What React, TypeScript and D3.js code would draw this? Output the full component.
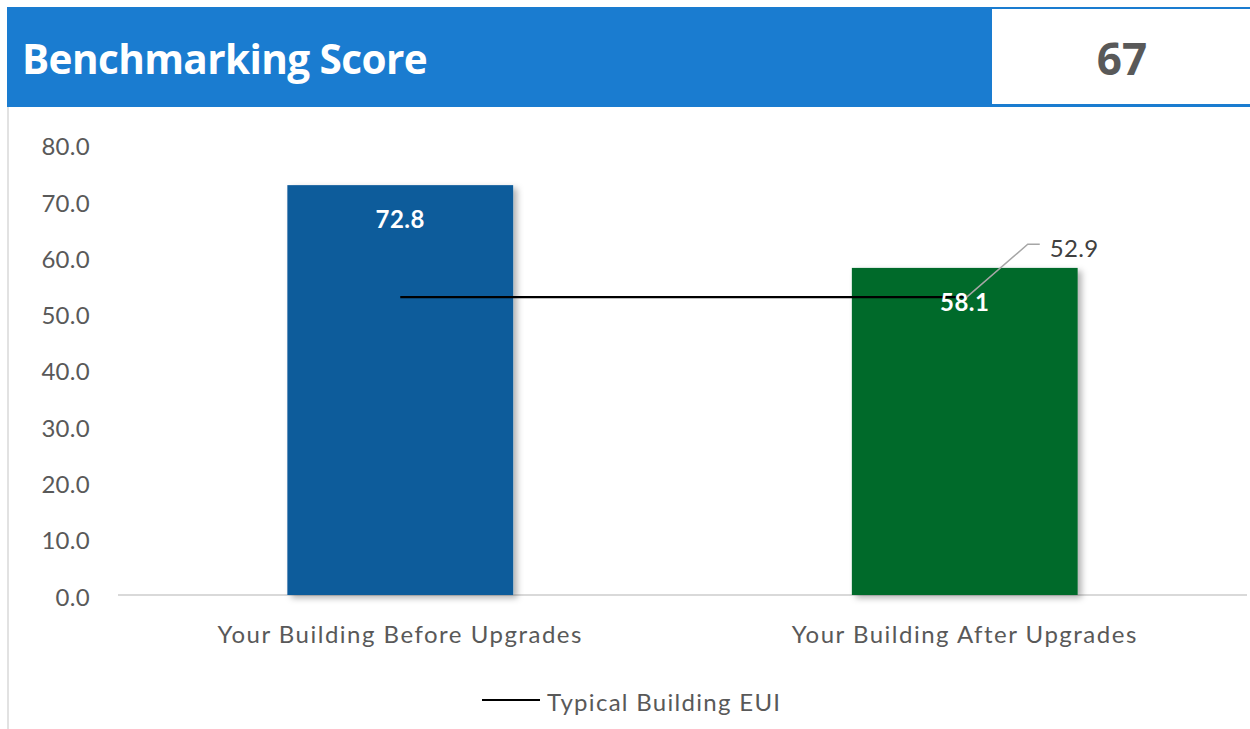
import React from "react";
import * as d3 from "d3";

const categories = ["Your Building Before Upgrades", "Your Building After Upgrades"];
const barValues = [72.8, 58.1];
const typicalEUI = [52.9, 52.9];
const yTicks = [0, 10, 20, 30, 40, 50, 60, 70, 80];
const barColors = ["#0f5b9b", "#036b2b"];
const title = "Benchmarking Score";
const score = "67";
const legendLabel = "Typical Building EUI";

const W = 1250;
const H = 729;
const FONT = "Lato, 'Open Sans', sans-serif";

export default function App() {
  const plotLeft = 118;
  const plotRight = 1247;
  const y = d3.scaleLinear().domain([0, 80]).range([595, 144.6]);
  const x = d3.scaleBand().domain(categories).range([plotLeft, plotRight]).paddingInner(0.6).paddingOuter(0.3);
  const xc = (c: string) => (x(c) as number) + x.bandwidth() / 2;
  const line = d3
    .line<number>()
    .x((_, i) => xc(categories[i]))
    .y((d) => y(d));
  const lastX = xc(categories[1]);
  const lastY = y(typicalEUI[1]);

  return (
    <svg width={W} height={H} style={{ position: "absolute", left: 0, top: 0, background: "#fff" }} fontFamily={FONT}>
      <defs>
        <filter id="shadow" x="-10%" y="-10%" width="130%" height="130%">
          <feDropShadow dx="4" dy="3" stdDeviation="3" floodColor="#000" floodOpacity="0.3" />
        </filter>
      </defs>
      {/* header */}
      <rect x={7} y={7} width={W - 7} height={100} fill="#1a7cd0" />
      <rect x={992} y={9} width={W - 992} height={95} fill="#fff" />
      <text x={22} y={74} fill="#fff" fontSize={40.5} fontWeight="bold" fontFamily="'Open Sans', sans-serif" letterSpacing={-0.6}>
        {title}
      </text>
      <text x={1122} y={75} fill="#595959" fontSize={44} fontWeight="bold" textAnchor="middle" fontFamily="'Open Sans', sans-serif">
        {score}
      </text>
      {/* left border */}
      <line x1={8} x2={8} y1={107} y2={H} stroke="#d9d9d9" strokeWidth={1.5} />

      {/* y ticks */}
      {yTicks.map((t) => (
        <text key={t} x={90} y={y(t) + 2} dy="0.36em" textAnchor="end" fill="#595959" fontSize={24} letterSpacing={0.3}>
          {t.toFixed(1)}
        </text>
      ))}
      {/* axis line */}
      <line x1={plotLeft} x2={plotRight} y1={y(0)} y2={y(0)} stroke="#d9d9d9" strokeWidth={2} />

      {/* bars */}
      {categories.map((c, i) => (
        <rect
          key={c}
          x={x(c)}
          y={y(barValues[i])}
          width={x.bandwidth()}
          height={y(0) - y(barValues[i])}
          fill={barColors[i]}
          filter="url(#shadow)"
        />
      ))}

      {/* line series */}
      <path d={line(typicalEUI) || ""} fill="none" stroke="#000" strokeWidth={2.2} />

      {/* bar labels */}
      {categories.map((c, i) => (
        <text key={c} x={xc(c)} y={y(barValues[i]) + 43} textAnchor="middle" fill="#fff" fontSize={24} fontWeight="bold" letterSpacing={0.5}>
          {barValues[i].toFixed(1)}
        </text>
      ))}

      {/* leader + line label */}
      <polyline
        points={`${lastX + 2},${lastY} ${lastX + 63},${lastY - 53} ${lastX + 75},${lastY - 53}`}
        fill="none"
        stroke="#a6a6a6"
        strokeWidth={1.5}
      />
      <text x={lastX + 85} y={lastY - 49} dy="0.36em" fill="#404040" fontSize={24} letterSpacing={0.3}>
        {typicalEUI[1].toFixed(1)}
      </text>

      {/* category labels */}
      {categories.map((c) => (
        <text key={c} x={xc(c)} y={643} textAnchor="middle" fill="#595959" fontSize={24} letterSpacing={1.5}>
          {c}
        </text>
      ))}

      {/* legend */}
      <line x1={482} x2={540} y1={700} y2={700} stroke="#000" strokeWidth={2.2} />
      <text x={547} y={711} fill="#595959" fontSize={24} letterSpacing={1.3}>
        {legendLabel}
      </text>
    </svg>
  );
}
